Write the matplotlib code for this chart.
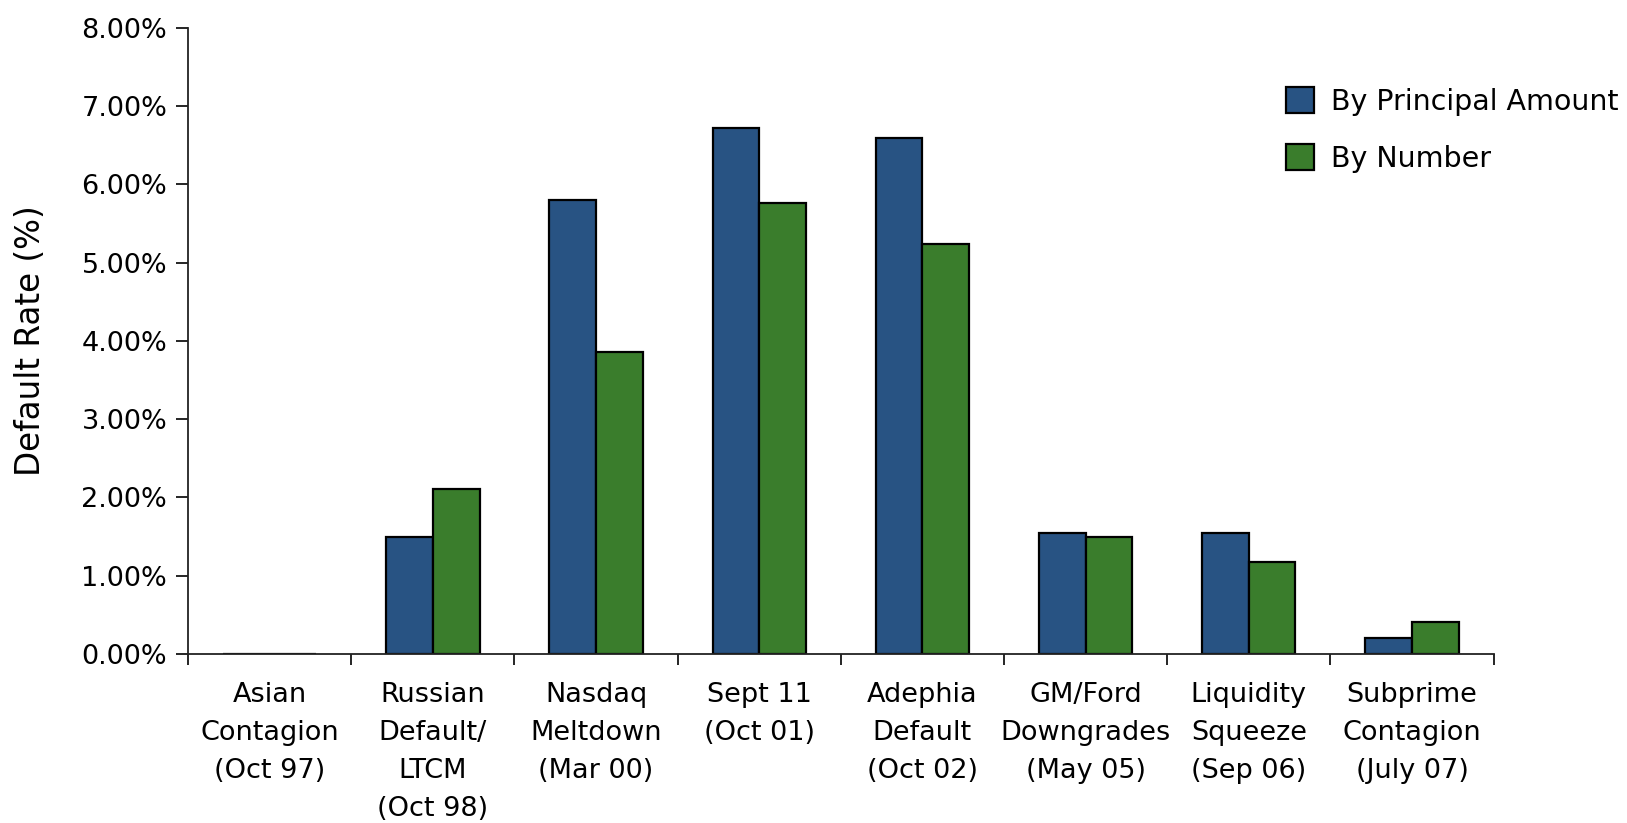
import matplotlib.pyplot as plt
import numpy as np

categories = ["Asian\nContagion\n(Oct 97)", "Russian\nDefault/\nLTCM\n(Oct 98)",
              "Nasdaq\nMeltdown\n(Mar 00)", "Sept 11\n(Oct 01)", "Adephia\nDefault\n(Oct 02)",
              "GM/Ford\nDowngrades\n(May 05)", "Liquidity\nSqueeze\n(Sep 06)",
              "Subprime\nContagion\n(July 07)"]
by_principal = [0.0, 1.50, 5.80, 6.72, 6.60, 1.54, 1.55, 0.20]
by_number = [0.0, 2.11, 3.86, 5.76, 5.24, 1.49, 1.17, 0.41]
y_ticks = [0, 1, 2, 3, 4, 5, 6, 7, 8]

plt.rcParams['font.family'] = ['DejaVu Sans']

fig = plt.figure(figsize=(16.27, 8.23), dpi=100)
ax = fig.add_axes([0.1156, 0.2054, 0.8024, 0.7606])

x = np.arange(len(categories))
w = 0.286
ax.bar(x - w / 2, by_principal, w, color="#285383", edgecolor="black", linewidth=1.6,
       label="By Principal Amount")
ax.bar(x + w / 2, by_number, w, color="#3a7d2c", edgecolor="black", linewidth=1.6,
       label="By Number")

ax.set_xlim(-0.5, len(categories) - 0.5)
ax.set_ylim(0, 8)
ax.set_yticks(y_ticks)
ax.set_yticklabels([f"{v:.2f}%" for v in y_ticks], fontsize=19.5)
ax.set_xticks(x)
ax.set_xticklabels(categories, fontsize=19.5, linespacing=1.6)
ax.set_xticks(np.arange(len(categories) + 1) - 0.5, minor=True)
ax.tick_params(axis="x", which="major", length=0, pad=20)
ax.tick_params(axis="x", which="minor", length=8, width=1.2, direction="out")
ax.tick_params(axis="y", length=9, width=1.2, direction="out", pad=6)

for s in ["top", "right"]:
    ax.spines[s].set_visible(False)
for s in ["left", "bottom"]:
    ax.spines[s].set_linewidth(1.3)
    ax.spines[s].set_color("#222222")

ax.set_ylabel("Default Rate (%)", fontsize=23.5, labelpad=25)

fig.legend(loc="upper left", bbox_to_anchor=(0.7745, 0.925), frameon=False, fontsize=20.5,
           handlelength=1.0, handleheight=1.0, labelspacing=1.0, handletextpad=0.6)

plt.savefig("out.png", dpi=100)
